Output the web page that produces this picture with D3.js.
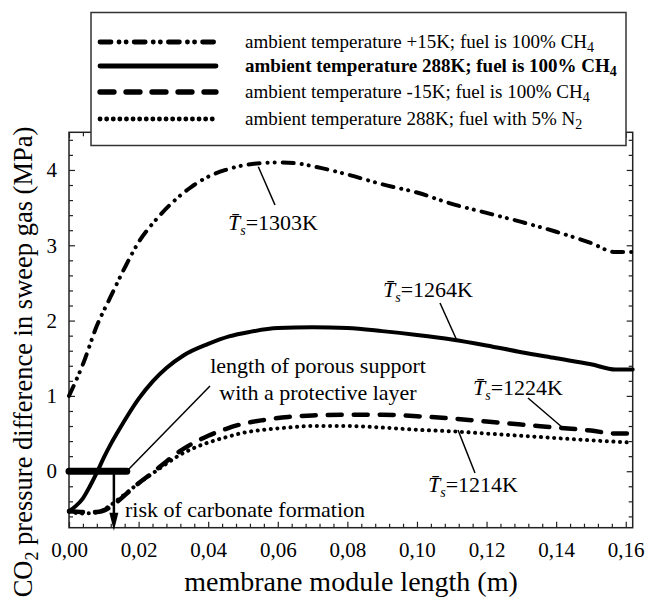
<!DOCTYPE html>
<html><head><meta charset="utf-8">
<script src="https://cdn.jsdelivr.net/npm/d3@7"></script>
<style>
body{margin:0;background:#fff}
svg{display:block}
text{font-family:"Liberation Serif","Times New Roman",serif;fill:#000}
</style>
</head><body>
<svg id="chart" width="646" height="600"></svg>
<script>
// Ambient temperature +15 K, fuel 100% CH4
const xWarm = [0, 0.004, 0.008, 0.012, 0.016, 0.020, 0.025, 0.030, 0.035, 0.040, 0.045, 0.050, 0.055, 0.060, 0.065, 0.070, 0.080, 0.090, 0.100, 0.110, 0.120, 0.130, 0.140, 0.150, 0.157, 0.162];
const yWarm = [1.00, 1.42, 1.93, 2.32, 2.70, 3.04, 3.34, 3.58, 3.77, 3.91, 4.00, 4.06, 4.09, 4.10, 4.09, 4.05, 3.94, 3.81, 3.70, 3.55, 3.43, 3.31, 3.18, 3.03, 2.91, 2.91];
// Ambient temperature 288 K, fuel 100% CH4
const xBase = [0, 0.002, 0.004, 0.006, 0.008, 0.010, 0.012, 0.014, 0.017, 0.020, 0.024, 0.028, 0.033, 0.040, 0.046, 0.052, 0.060, 0.070, 0.080, 0.090, 0.100, 0.110, 0.120, 0.130, 0.140, 0.150, 0.157, 0.162];
const yBase = [-0.53, -0.46, -0.36, -0.20, -0.02, 0.18, 0.36, 0.52, 0.75, 0.96, 1.19, 1.37, 1.54, 1.69, 1.79, 1.85, 1.90, 1.91, 1.90, 1.86, 1.81, 1.75, 1.67, 1.58, 1.50, 1.42, 1.35, 1.35];
// Ambient temperature -15 K, fuel 100% CH4
const xCold = [0, 0.004, 0.008, 0.011, 0.014, 0.017, 0.020, 0.024, 0.028, 0.032, 0.036, 0.040, 0.045, 0.050, 0.056, 0.063, 0.070, 0.080, 0.090, 0.100, 0.110, 0.120, 0.130, 0.140, 0.150, 0.157, 0.162];
const yCold = [-0.53, -0.54, -0.54, -0.50, -0.40, -0.28, -0.16, -0.02, 0.13, 0.27, 0.38, 0.47, 0.56, 0.63, 0.68, 0.72, 0.74, 0.75, 0.75, 0.73, 0.70, 0.66, 0.62, 0.58, 0.54, 0.50, 0.50];
// Ambient temperature 288 K, fuel with 5% N2
const xNitro = [0, 0.004, 0.008, 0.011, 0.014, 0.017, 0.020, 0.024, 0.028, 0.032, 0.036, 0.040, 0.045, 0.050, 0.056, 0.063, 0.070, 0.080, 0.090, 0.100, 0.110, 0.120, 0.130, 0.140, 0.150, 0.162];
const yNitro = [-0.54, -0.56, -0.55, -0.48, -0.38, -0.27, -0.16, -0.03, 0.10, 0.22, 0.31, 0.38, 0.45, 0.51, 0.55, 0.58, 0.60, 0.60, 0.58, 0.55, 0.53, 0.50, 0.47, 0.44, 0.41, 0.38];

const legendText = [
  ["ambient temperature +15K; fuel is 100% CH", "4"],
  ["ambient temperature 288K; fuel is 100% CH", "4"],
  ["ambient temperature -15K; fuel is 100% CH", "4"],
  ["ambient temperature 288K; fuel with 5% N", "2"]
];
const surfaceTemps = ["1303K", "1264K", "1224K", "1214K"];

const xMajor = [0, 0.02, 0.04, 0.06, 0.08, 0.10, 0.12, 0.14, 0.16];
const yMajor = [0, 1, 2, 3, 4];

// protective-layer length and the carbonate-risk marker position (m)
const layerLength = 0.0166;
const riskX = 0.0129;

const svg = d3.select("#chart");
const x = d3.scaleLinear().domain([0, 0.162]).range([69, 632.7]);
const y = d3.scaleLinear().domain([-0.75, 4.5]).range([527.7, 132.3]);

const xMinor = d3.range(0, 0.1621, 0.004).filter(v => xMajor.every(m => Math.abs(m - v) > 1e-6));
const yMinor = d3.range(-0.6, 4.41, 0.2).filter(v => yMajor.every(m => Math.abs(m - v) > 1e-6));

const comma = v => d3.format(".2f")(v).replace(".", ",");

// frame
svg.append("rect").attr("x", x(0)).attr("y", y(4.5))
  .attr("width", x(0.162) - x(0)).attr("height", y(-0.75) - y(4.5))
  .attr("fill", "none").attr("stroke", "#222").attr("stroke-width", 1.5);

function styleAxis(g) {
  g.attr("font-family", null);
  g.select(".domain").remove();
  g.selectAll(".tick line").attr("stroke", "#222").attr("stroke-width", 1.2);
  g.selectAll("text").attr("font-size", 21);
}
const H = y(-0.75), T = y(4.5), L = x(0), R = x(0.162);

svg.append("g").attr("transform", `translate(0,${H})`)
  .call(d3.axisBottom(x).tickValues(xMajor).tickSize(-6).tickPadding(14).tickFormat(comma)).call(styleAxis);
svg.append("g").attr("transform", `translate(0,${H})`)
  .call(d3.axisBottom(x).tickValues(xMinor).tickSize(-4).tickFormat("")).call(styleAxis);
svg.append("g").attr("transform", `translate(0,${T})`)
  .call(d3.axisTop(x).tickValues(xMajor).tickSize(-6).tickFormat("")).call(styleAxis);
svg.append("g").attr("transform", `translate(0,${T})`)
  .call(d3.axisTop(x).tickValues(xMinor).tickSize(-4).tickFormat("")).call(styleAxis);
svg.append("g").attr("transform", `translate(${L},0)`)
  .call(d3.axisLeft(y).tickValues(yMajor).tickSize(-6).tickPadding(12).tickFormat(d3.format("d"))).call(styleAxis);
svg.append("g").attr("transform", `translate(${L},0)`)
  .call(d3.axisLeft(y).tickValues(yMinor).tickSize(-4).tickFormat("")).call(styleAxis);
svg.append("g").attr("transform", `translate(${R},0)`)
  .call(d3.axisRight(y).tickValues(yMajor).tickSize(-6).tickFormat("")).call(styleAxis);
svg.append("g").attr("transform", `translate(${R},0)`)
  .call(d3.axisRight(y).tickValues(yMinor).tickSize(-4).tickFormat("")).call(styleAxis);

// axis titles
svg.append("text").attr("x", 351).attr("y", 591).attr("text-anchor", "middle")
  .attr("font-size", 28).text("membrane module length (m)");
const yt = svg.append("text").attr("transform", `translate(32,362) rotate(-90)`)
  .attr("text-anchor", "middle").attr("font-size", 26.5);
yt.append("tspan").text("CO");
yt.append("tspan").attr("font-size", 18).attr("dy", 6).text("2");
yt.append("tspan").attr("dy", -6).text(" pressure difference in sweep gas (MPa)");

// series
const styles = [
  {dash: "11,8,0.1,7,0.1,8", w: 4},
  {dash: null, w: 4},
  {dash: "14,12", w: 4.5},
  {dash: "0.1,6.5", w: 4}
];
const series = [
  d3.zip(xWarm, yWarm), d3.zip(xBase, yBase), d3.zip(xCold, yCold), d3.zip(xNitro, yNitro)
];
const line = d3.line().x(d => x(d[0])).y(d => y(d[1])).curve(d3.curveMonotoneX);
series.forEach((s, i) => {
  svg.append("path").attr("d", line(s)).attr("fill", "none").attr("stroke", "#000")
    .attr("stroke-width", styles[i].w).attr("stroke-linecap", "round").attr("stroke-linejoin", "round")
    .attr("stroke-dasharray", styles[i].dash);
});

// protective layer bar along zero
svg.append("line").attr("x1", x(0)).attr("x2", x(layerLength)).attr("y1", y(0)).attr("y2", y(0))
  .attr("stroke", "#000").attr("stroke-width", 7).attr("stroke-linecap", "round");
// arrow to carbonate risk
svg.append("line").attr("x1", x(riskX)).attr("x2", x(riskX)).attr("y1", y(0)).attr("y2", y(-0.58))
  .attr("stroke", "#000").attr("stroke-width", 2.5);
svg.append("path")
  .attr("d", `M${x(riskX) - 4.5},${y(-0.55)} L${x(riskX) + 4.5},${y(-0.55)} L${x(riskX)},${y(-0.79)} Z`)
  .attr("fill", "#000");
svg.append("text").attr("x", 125).attr("y", 517).attr("font-size", 22).text("risk of carbonate formation");

// protective layer annotation
svg.append("line").attr("x1", x(layerLength)).attr("y1", y(0)).attr("x2", 210).attr("y2", 386)
  .attr("stroke", "#000").attr("stroke-width", 1.5);
svg.append("text").attr("x", 318).attr("y", 373).attr("text-anchor", "middle").attr("font-size", 22)
  .text("length of porous support");
svg.append("text").attr("x", 318).attr("y", 400).attr("text-anchor", "middle").attr("font-size", 22)
  .text("with a protective layer");

// mean surface temperature labels with leaders
const tsLabels = [
  {tx: 228, ty: 230, a: [258.3, 166.7], b: [275, 205]},
  {tx: 383, ty: 297, a: [440, 303], b: [456.7, 340]},
  {tx: 473, ty: 395, a: [528, 398], b: [563, 428]},
  {tx: 428, ty: 492, a: [475, 473], b: [458, 430]}
];
tsLabels.forEach((d, i) => {
  svg.append("line").attr("x1", d.a[0]).attr("y1", d.a[1]).attr("x2", d.b[0]).attr("y2", d.b[1])
    .attr("stroke", "#000").attr("stroke-width", 1.5);
  const t = svg.append("text").attr("x", d.tx).attr("y", d.ty).attr("font-size", 22);
  t.append("tspan").attr("font-style", "italic").text("T\u0304");
  t.append("tspan").attr("font-style", "italic").attr("font-size", 14).attr("dy", 5).text("s");
  t.append("tspan").attr("dy", -5).text("=" + surfaceTemps[i]);
});

// legend
const lg = svg.append("g");
lg.append("rect").attr("x", 91).attr("y", 12.5).attr("width", 535).attr("height", 133)
  .attr("fill", "#fff").attr("stroke", "#333").attr("stroke-width", 1.5);
const rowY = [42, 66, 92, 119];
legendText.forEach((lab, i) => {
  lg.append("line").attr("x1", 100).attr("x2", 216).attr("y1", rowY[i]).attr("y2", rowY[i])
    .attr("stroke", "#000").attr("stroke-width", styles[i].w + 0.8).attr("stroke-linecap", "round")
    .attr("stroke-dasharray", styles[i].dash);
  const t = lg.append("text").attr("x", 245).attr("y", rowY[i] + 6).attr("font-size", 19)
    .attr("font-weight", i === 1 ? "bold" : "normal");
  t.append("tspan").text(lab[0]);
  t.append("tspan").attr("font-size", 14).attr("dy", 4).text(lab[1]);
});
</script>
</body></html>
